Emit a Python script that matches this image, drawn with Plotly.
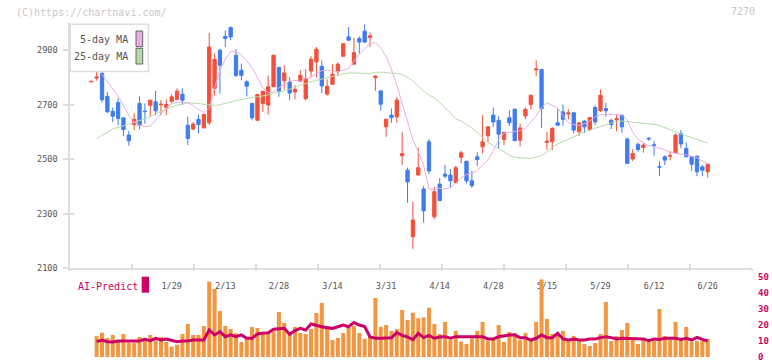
import plotly.graph_objects as go

# ---------------- data ----------------
tick_idx = [15, 25, 35, 45, 55, 65, 75, 85, 95, 105, 115]
tick_labels = ["1/29", "2/13", "2/28", "3/14", "3/31", "4/14", "4/28", "5/15", "5/29", "6/12", "6/26"]

open_ = [2784, 2798, 2815, 2731, 2676, 2708, 2652, 2589, 2627, 2705,
         2677, 2698, 2711, 2700, 2690, 2713, 2720, 2739, 2625, 2611,
         2646, 2615, 2634, 2760, 2900, 2951, 2983, 2882, 2827, 2784,
         2705, 2643, 2705, 2699, 2766, 2837, 2788, 2784, 2747, 2786,
         2722, 2824, 2857, 2841, 2739, 2775, 2821, 2878, 2949, 2849,
         2943, 2970, 2947, 2799, 2751, 2619, 2662, 2656, 2513, 2460,
         2216, 2442, 2391, 2564, 2289, 2409, 2446, 2442, 2414, 2507,
         2493, 2421, 2509, 2546, 2586, 2662, 2643, 2573, 2652, 2684,
         2570, 2659, 2701, 2828, 2830, 2562, 2564, 2634, 2674, 2666,
         2671, 2601, 2640, 2609, 2690, 2678, 2686, 2643, 2645, 2662,
         2574, 2501, 2555, 2543, 2577, 2553, 2473, 2509, 2511, 2524,
         2595, 2540, 2509, 2512, 2472, 2454]
high = [2786, 2829, 2820, 2747, 2690, 2723, 2652, 2604, 2670, 2731,
        2705, 2717, 2751, 2717, 2720, 2739, 2760, 2760, 2656, 2637,
        2664, 2665, 2963, 2888, 2906, 2973, 2988, 2903, 2851, 2790,
        2705, 2738, 2750, 2808, 2882, 2837, 2845, 2802, 2772, 2827,
        2830, 2878, 2912, 2863, 2793, 2849, 2856, 2924, 2985, 2946,
        2951, 2995, 2965, 2808, 2751, 2647, 2686, 2729, 2601, 2469,
        2344, 2542, 2402, 2574, 2399, 2431, 2479, 2464, 2476, 2531,
        2493, 2457, 2525, 2662, 2622, 2690, 2658, 2599, 2680, 2684,
        2631, 2690, 2735, 2863, 2830, 2600, 2619, 2686, 2701, 2684,
        2671, 2634, 2643, 2653, 2699, 2756, 2707, 2649, 2662, 2662,
        2580, 2537, 2562, 2560, 2582, 2567, 2493, 2515, 2530, 2595,
        2607, 2562, 2509, 2512, 2479, 2482]
low = [2784, 2788, 2708, 2670, 2637, 2625, 2585, 2550, 2606, 2610,
       2631, 2656, 2662, 2662, 2662, 2705, 2717, 2699, 2552, 2607,
       2595, 2615, 2625, 2735, 2741, 2912, 2937, 2802, 2790, 2731,
       2643, 2643, 2674, 2664, 2766, 2729, 2756, 2717, 2720, 2784,
       2717, 2802, 2800, 2743, 2733, 2775, 2806, 2878, 2935, 2849,
       2888, 2927, 2912, 2751, 2678, 2582, 2634, 2634, 2479, 2340,
       2171, 2442, 2267, 2446, 2280, 2348, 2430, 2395, 2411, 2485,
       2411, 2395, 2476, 2521, 2564, 2619, 2540, 2552, 2622, 2568,
       2548, 2647, 2683, 2806, 2615, 2535, 2534, 2625, 2623, 2647,
       2595, 2585, 2597, 2603, 2625, 2674, 2656, 2611, 2603, 2597,
       2485, 2493, 2527, 2524, 2568, 2513, 2438, 2479, 2497, 2519,
       2540, 2509, 2458, 2438, 2438, 2432]
close = [2786, 2802, 2718, 2674, 2658, 2650, 2609, 2568, 2647, 2625,
         2675, 2717, 2678, 2702, 2701, 2729, 2750, 2717, 2576, 2629,
         2628, 2665, 2912, 2866, 2845, 2943, 2949, 2808, 2808, 2768,
         2652, 2738, 2750, 2766, 2882, 2750, 2817, 2743, 2757, 2808,
         2796, 2867, 2904, 2769, 2768, 2812, 2849, 2924, 2937, 2891,
         2930, 2930, 2953, 2805, 2702, 2647, 2653, 2717, 2521, 2417,
         2277, 2469, 2311, 2457, 2381, 2348, 2438, 2421, 2469, 2524,
         2421, 2403, 2499, 2564, 2619, 2637, 2592, 2599, 2634, 2568,
         2615, 2683, 2735, 2831, 2686, 2566, 2613, 2625, 2647, 2670,
         2607, 2634, 2619, 2653, 2637, 2735, 2678, 2628, 2649, 2619,
         2485, 2521, 2536, 2552, 2575, 2551, 2471, 2497, 2514, 2589,
         2556, 2509, 2482, 2454, 2460, 2482]

ma5 = [None, None, 2812, 2786, 2757, 2732, 2697, 2660, 2636, 2625,
       2619, 2622, 2643, 2668, 2690, 2703, 2709, 2711, 2707, 2698,
       2682, 2672, 2687, 2763, 2827, 2867, 2895, 2897, 2882, 2862,
       2835, 2800, 2762, 2744, 2747, 2763, 2775, 2786, 2790, 2786,
       2796, 2800, 2815, 2825, 2827, 2824, 2821, 2827, 2833, 2860,
       2886, 2905, 2925, 2928, 2908, 2878, 2830, 2772, 2708, 2640,
       2572, 2528, 2478, 2392, 2390, 2393, 2391, 2396, 2412, 2432,
       2444, 2448, 2459, 2479, 2498, 2530, 2573, 2596, 2598, 2602,
       2605, 2615, 2636, 2658, 2690, 2707, 2698, 2688, 2660, 2635,
       2627, 2625, 2630, 2640, 2656, 2663, 2665, 2665, 2665, 2662,
       2645, 2600, 2573, 2561, 2550, 2546, 2541, 2535, 2525, 2521,
       2519, 2516, 2512, 2506, 2494, 2483]
ma25 = [None, 2576, 2588, 2601, 2611, 2617, 2622, 2629, 2635, 2641,
        2649, 2657, 2666, 2676, 2686, 2693, 2698, 2703, 2707, 2706,
        2704, 2700, 2698, 2698, 2700, 2704, 2710, 2716, 2720, 2723,
        2726, 2729, 2732, 2736, 2742, 2746, 2751, 2757, 2764, 2770,
        2778, 2785, 2789, 2794, 2800, 2805, 2811, 2814, 2817, 2817,
        2817, 2816, 2815, 2819, 2820, 2818, 2816, 2815, 2812, 2800,
        2787, 2770, 2750, 2736, 2726, 2708, 2690, 2670, 2648, 2640,
        2628, 2615, 2598, 2580, 2562, 2550, 2540, 2528, 2515, 2508,
        2505, 2503, 2503, 2507, 2515, 2526, 2544, 2556, 2564, 2572,
        2582, 2592, 2600, 2608, 2614, 2620, 2627, 2633, 2638, 2640,
        2638, 2636, 2634, 2632, 2631, 2628, 2624, 2616, 2607, 2600,
        2593, 2586, 2580, 2573, 2566, 2559]

volume = [None, 13.1, 15.2, 11.9, 13.8, 10.0, 14.4, 8.8, 8.8, 12.5,
          11.7, 13.8, 10.4, 12.5, 9.4, 6.5, 7.7, 14.4, 20.6, 13.8,
          13.8, 19.4, 47.1, 42.5, 28.8, 19.4, 17.5, 14.8, 9.4, 12.5,
          18.8, 18.1, 15.6, 15.6, 16.0, 28.1, 21.3, 14.4, 18.8, 15.0,
          14.4, 17.5, 27.5, 33.8, 19.4, 10.6, 11.9, 15.0, 18.1, 19.4,
          15.0, 11.3, 13.1, 36.9, 18.8, 20.0, 16.3, 17.5, 29.4, 23.1,
          27.7, 24.2, 24.8, 30.8, 20.6, 14.4, 21.9, 10.6, 16.3, 9.6,
          8.1, 11.7, 16.3, 21.9, 10.0, 10.6, 20.0, 9.4, 15.6, 15.0,
          10.6, 15.0, 10.6, 21.9, 48.5, 23.8, 14.4, 15.0, 16.3, 10.0,
          13.1, 10.6, 8.1, 6.9, 8.8, 14.4, 34.4, 10.0, 13.1, 16.9,
          21.3, 10.6, 8.1, 10.6, 9.4, 10.6, 30.0, 13.1, 11.3, 21.9,
          10.6, 18.8, 9.4, 10.0, 10.0, 11.3]
ai_predict = [None, 9.6, 10.6, 9.6, 9.4, 10.0, 10.0, 9.6, 9.6, 10.0,
              11.0, 10.2, 11.7, 10.6, 11.2, 10.6, 9.6, 10.0, 10.0, 10.6,
              10.6, 10.6, 16.9, 13.8, 15.8, 12.7, 13.8, 12.7, 13.8, 11.7,
              11.7, 14.4, 14.8, 15.2, 17.3, 17.5, 17.9, 14.2, 16.5, 17.9,
              16.9, 20.6, 19.6, 18.9, 18.3, 17.9, 18.9, 20.0, 18.9, 21.5,
              20.0, 19.0, 12.5, 11.7, 11.7, 11.7, 12.0, 15.2, 13.5, 12.5,
              10.8, 14.8, 12.1, 13.5, 11.7, 12.5, 12.7, 11.7, 12.7, 12.7,
              12.7, 12.7, 12.7, 12.7, 11.3, 11.3, 12.7, 13.3, 13.8, 13.8,
              12.1, 12.1, 10.6, 11.7, 13.8, 12.1, 12.1, 14.8, 11.3, 10.6,
              11.3, 10.6, 10.6, 11.3, 11.3, 12.1, 12.7, 12.1, 11.3, 11.7,
              11.7, 11.3, 11.3, 11.3, 10.2, 11.3, 11.0, 11.7, 11.7, 11.7,
              11.0, 11.7, 10.6, 12.3, 11.0, 10.0]

price_ticks = [2100, 2300, 2500, 2700, 2900]
volume_ticks = [0, 10, 20, 30, 40, 50]

# ---------------- styling ----------------
RED = "#F2503B"
BLUE = "#3F7CEF"
ORANGE = "#F2963F"
MAGENTA = "#CC0066"
PINK = "#E6AEE6"
GREEN = "#B6DCA6"
AXIS = "#DDDDDD"
MONO = "DejaVu Sans Mono"

W, H = 772, 361
ML, MR, MT, MB = 70, 20, 23, 4
PW, PH = W - ML - MR, H - MT - MB


def px(xp):
    return (xp - ML) / PW


def py(yp):
    return (H - MB - yp) / PH


n = len(open_)
x = list(range(n))
x0 = -(91.3 - ML) / 5.36
x1 = x0 + PW / 5.36

fig = go.Figure()
fig.add_trace(go.Bar(x=x, y=volume, marker=dict(color=ORANGE, line=dict(width=0)),
                     xaxis="x", yaxis="y2", hoverinfo="skip"))
fig.add_trace(go.Scatter(x=x, y=ai_predict, mode="lines", line=dict(color=MAGENTA, width=3),
                         xaxis="x", yaxis="y2", hoverinfo="skip"))
fig.add_trace(go.Scatter(x=x, y=ma25, mode="lines", line=dict(color=GREEN, width=1),
                         xaxis="x", yaxis="y", hoverinfo="skip"))
fig.add_trace(go.Scatter(x=x, y=ma5, mode="lines", line=dict(color=PINK, width=1),
                         xaxis="x", yaxis="y", hoverinfo="skip"))
fig.add_trace(go.Candlestick(
    x=x, open=open_, high=high, low=low, close=close,
    increasing=dict(line=dict(color=RED, width=1), fillcolor=RED),
    decreasing=dict(line=dict(color=BLUE, width=1), fillcolor=BLUE),
    whiskerwidth=0, xaxis="x", yaxis="y", hoverinfo="skip"))
# empty helper traces so the tick-only overlay axes get drawn
fig.add_trace(go.Scatter(x=[None], y=[None], xaxis="x2", yaxis="y", hoverinfo="skip"))
fig.add_trace(go.Scatter(x=[None], y=[None], xaxis="x3", yaxis="y", hoverinfo="skip"))
fig.add_trace(go.Scatter(x=[None], y=[None], xaxis="x", yaxis="y3", hoverinfo="skip"))

tickfont = dict(family=MONO, size=8.5, color="#555555")

fig.update_layout(
    width=W, height=H,
    margin=dict(l=ML, r=MR, t=MT, b=MB, pad=0, autoexpand=False),
    paper_bgcolor="white", plot_bgcolor="white",
    showlegend=False, boxgap=0.12, bargap=0.25,
    xaxis=dict(range=[x0, x1], domain=[0, 1], anchor="y", automargin=False,
               showline=True, linecolor=AXIS, linewidth=1.5,
               showgrid=False, zeroline=False,
               tickmode="array", tickvals=tick_idx, ticktext=tick_labels,
               ticks="outside", ticklen=9, tickcolor="rgba(0,0,0,0)",
               tickfont=tickfont, rangeslider=dict(visible=False), fixedrange=True),
    xaxis2=dict(overlaying="x", anchor="y", range=[0, 11], tickmode="array",
                tickvals=list(range(12)), ticks="inside", ticklen=4, tickwidth=1.5,
                tickcolor=AXIS, showticklabels=False, showgrid=False,
                zeroline=False, showline=False, automargin=False),
    xaxis3=dict(overlaying="x", anchor="y", range=[0, 11], tickmode="array",
                tickvals=list(range(12)), ticks="outside", ticklen=2, tickwidth=1.5,
                tickcolor=AXIS, showticklabels=False, showgrid=False,
                zeroline=False, showline=False, automargin=False),
    yaxis=dict(domain=[py(268.3), 1], range=[2100, 3000], anchor="x", automargin=False,
               tickmode="array", tickvals=price_ticks,
               ticks="outside", ticklen=5, tickwidth=1.5, tickcolor=AXIS,
               showline=True, linecolor=AXIS, linewidth=1.5,
               showgrid=False, zeroline=False, tickfont=tickfont,
               ticklabelstandoff=4, fixedrange=True),
    yaxis3=dict(overlaying="y", anchor="x", range=[2100, 3000], automargin=False,
                tickmode="array", tickvals=price_ticks,
                ticks="inside", ticklen=4, tickwidth=1.5, tickcolor=AXIS,
                showticklabels=False, showgrid=False, zeroline=False, showline=False),
    yaxis2=dict(domain=[0, py(277)], range=[0, 50], anchor="x", side="right",
                automargin=False, ticklabeloverflow="allow",
                tickmode="array", tickvals=volume_ticks, ticks="",
                showgrid=False, zeroline=False, showline=False,
                tickfont=dict(family=MONO, size=9, color=MAGENTA, weight="bold"),
                ticklabelstandoff=5, fixedrange=True),
)

shapes = [
    # legend box
    dict(type="rect", xref="paper", yref="paper", x0=px(70.3), x1=px(148.3),
         y0=py(71.5), y1=py(24.3), line=dict(color=AXIS, width=1.5),
         fillcolor="white", layer="above"),
    dict(type="rect", xref="paper", yref="paper", x0=px(136), x1=px(142.7),
         y0=py(46.7), y1=py(31), line=dict(color="#666666", width=1),
         fillcolor=PINK, layer="above"),
    dict(type="rect", xref="paper", yref="paper", x0=px(136), x1=px(142.7),
         y0=py(64), y1=py(48.3), line=dict(color="#666666", width=1),
         fillcolor=GREEN, layer="above"),
    # AI-Predict marker block
    dict(type="rect", xref="paper", yref="paper", x0=px(141.7), x1=px(149),
         y0=py(292.7), y1=py(276.7), line=dict(width=0),
         fillcolor=MAGENTA, layer="above"),
]
fig.update_layout(shapes=shapes)

annotations = [
    dict(text="(C)https://chartnavi.com/", x=px(14), y=py(12.5), xanchor="left",
         yanchor="middle", font=dict(family=MONO, size=10, color="#C8C8C8")),
    dict(text="7270", x=px(757), y=py(12), xanchor="right", yanchor="middle",
         font=dict(family=MONO, size=10, color="#C8C8C8")),
    dict(text="5-day MA", x=px(130), y=py(39.5), xanchor="right", yanchor="middle",
         font=dict(family=MONO, size=10, color="#555555")),
    dict(text="25-day MA", x=px(130), y=py(56.5), xanchor="right", yanchor="middle",
         font=dict(family=MONO, size=10, color="#555555")),
    dict(text="AI-Predict", x=px(76), y=py(286), xanchor="left", yanchor="middle",
         font=dict(family=MONO, size=10, color=MAGENTA)),
]
for a in annotations:
    a.update(xref="paper", yref="paper", showarrow=False)
fig.update_layout(annotations=annotations)

fig.write_html("out.html", config={"displayModeBar": False},
               post_script="document.body.style.margin='0px';")
